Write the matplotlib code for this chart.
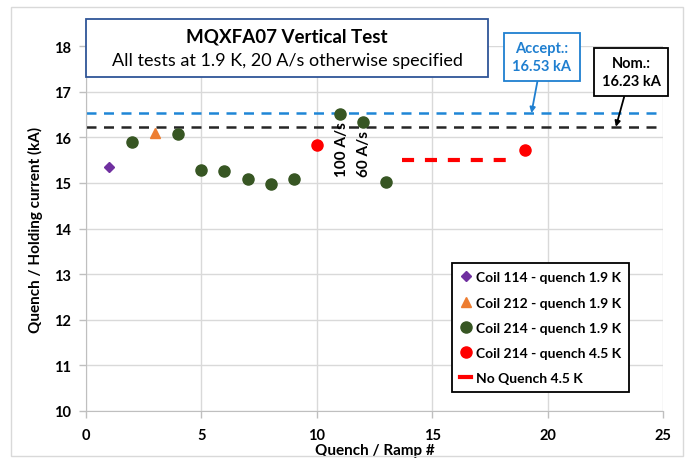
import matplotlib.pyplot as plt
from matplotlib.lines import Line2D
from matplotlib.patches import Rectangle

plt.rcParams['font.family'] = ['Lato', 'DejaVu Sans']

# data
coil114_x = [1]
coil114_y = [15.35]
coil212_x = [3]
coil212_y = [16.09]
coil214_x = [2, 4, 5, 6, 7, 8, 9, 11, 12, 13]
coil214_y = [15.89, 16.07, 15.28, 15.27, 15.08, 14.98, 15.08, 16.50, 16.34, 15.01]
coil214_45_x = [10, 19]
coil214_45_y = [15.82, 15.72]
noquench_x = [13.7, 18.3]
noquench_y = [15.5, 15.5]
accept = 16.53
nominal = 16.23

fig = plt.figure(figsize=(6.97, 4.60), dpi=100)
ax = fig.add_axes([86/697, 48/460, 577/697, 365/460])

grid_c = '#d9d9d9'
ax.set_xlim(0, 25)
ax.set_ylim(10, 18)
ax.set_xticks(range(0, 26, 5))
ax.set_yticks(range(10, 19))
ax.grid(True, color=grid_c, lw=1)
ax.set_axisbelow(True)
for s in ['top', 'right']:
    ax.spines[s].set_visible(False)
for s in ['left', 'bottom']:
    ax.spines[s].set_color('#bfbfbf')
ax.tick_params(colors='#bfbfbf', labelcolor='black', length=5, width=1)
ax.tick_params(axis='x', pad=7)
ax.tick_params(axis='y', pad=6)
for lab in ax.get_xticklabels() + ax.get_yticklabels():
    lab.set_fontweight('bold')
    lab.set_fontsize(10.5)

ax.axhline(accept, color='#1f86d6', lw=1.8, ls=(0, (4, 3)))
ax.axhline(nominal, color='#262626', lw=1.8, ls=(0, (4, 3)))

ax.plot(coil114_x, coil114_y, 'D', color='#7030a0', ms=5.5, ls='none')
ax.plot(coil212_x, coil212_y, '^', color='#ed7d31', ms=7.5, ls='none')
ax.plot(coil214_x, coil214_y, 'o', color='#375623', ms=8, ls='none')
ax.plot(coil214_45_x, coil214_45_y, 'o', color='#ff0000', ms=8, ls='none')
ax.plot(noquench_x, noquench_y, color='#ff0000', lw=3, ls=(0, (2.9, 2.6)),
        solid_capstyle='butt', dash_capstyle='butt')

ax.text(11.08, 15.16, '100 A/s', rotation=90, ha='center', va='bottom',
        fontsize=11, fontweight='bold')
ax.text(12.05, 15.16, '60 A/s', rotation=90, ha='center', va='bottom',
        fontsize=11, fontweight='bold')

ax.set_xlabel('Quench / Ramp #', fontweight='bold', fontsize=11, labelpad=1)
ax.set_ylabel('Quench / Holding current (kA)', fontweight='bold', fontsize=11, labelpad=8)

# title box
fig.patches.append(Rectangle((86/697, 1 - 78/460), 402/697, 58/460,
                             transform=fig.transFigure, fill=True, fc='white',
                             ec='#2f5597', lw=1.3, zorder=5))
fig.text(287/697, 1 - 37/460, 'MQXFA07 Vertical Test', ha='center', va='center',
         fontsize=13.5, fontweight='bold', zorder=6)
fig.text(287/697, 1 - 61/460, 'All tests at 1.9 K, 20 A/s otherwise specified',
         ha='center', va='center', fontsize=13, zorder=6)

# acceptance / nominal labels
ax.annotate('Accept.:\n16.53 kA', xy=(19.3, accept), xycoords='data',
            xytext=(542/697, 1 - 58/460), textcoords='figure fraction',
            ha='center', va='center', color='#1f7fd0', fontsize=10.5, fontweight='bold',
            linespacing=1.4,
            bbox=dict(boxstyle='square,pad=0.55', fc='white', ec='#1f7fd0', lw=1.3),
            arrowprops=dict(arrowstyle='-|>', color='#1f7fd0', lw=1.3,
                            shrinkA=0, shrinkB=0, mutation_scale=8),
            annotation_clip=False)
ax.annotate('Nom.:\n16.23 kA', xy=(22.96, nominal), xycoords='data',
            xytext=(631/697, 1 - 73/460), textcoords='figure fraction',
            ha='center', va='center', color='black', fontsize=10.5, fontweight='bold',
            linespacing=1.4,
            bbox=dict(boxstyle='square,pad=0.55', fc='white', ec='black', lw=1.3),
            arrowprops=dict(arrowstyle='-|>', color='black', lw=1.3,
                            shrinkA=0, shrinkB=0, mutation_scale=8),
            annotation_clip=False)

handles = [
    Line2D([], [], marker='D', color='#7030a0', ls='none', ms=5.5),
    Line2D([], [], marker='^', color='#ed7d31', ls='none', ms=7.5),
    Line2D([], [], marker='o', color='#375623', ls='none', ms=8),
    Line2D([], [], marker='o', color='#ff0000', ls='none', ms=8),
    Line2D([], [], color='#ff0000', lw=3),
]
labels = ['Coil 114 - quench 1.9 K', 'Coil 212 - quench 1.9 K',
          'Coil 214 - quench 1.9 K', 'Coil 214 - quench 4.5 K', 'No Quench 4.5 K']
leg = ax.legend(handles, labels, loc='upper left',
                bbox_to_anchor=(452/697, 1 - 264/460),
                bbox_transform=fig.transFigure,
                prop={'weight': 'bold', 'size': 10}, fancybox=False,
                edgecolor='black', framealpha=1, handlelength=0.8,
                handletextpad=0.3, labelspacing=0.95, borderpad=0.6,
                borderaxespad=0)
leg.get_frame().set_linewidth(1.3)

# outer chart border
fig.patches.append(Rectangle((11/697, 1 - 457/460), 672/697, 449/460,
                             transform=fig.transFigure, fill=False,
                             ec='#d9d9d9', lw=1))

fig.savefig('out.png', dpi=100)
